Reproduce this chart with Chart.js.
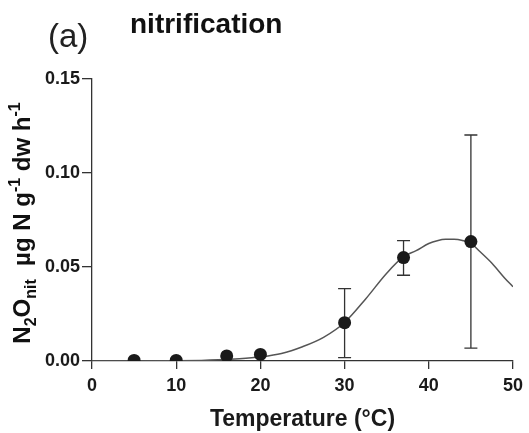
<!DOCTYPE html>
<html>
<head>
<script src="https://cdn.jsdelivr.net/npm/chart.js@4.4.1/dist/chart.umd.min.js"></script>
<style>
  body { margin: 0; background: #fff; }
  #chart { display: block; }
</style>
</head>
<body>
<canvas id="chart" width="529" height="433"></canvas>
<script>
// measured N2O from nitrification, mean and error range
var temps = [5, 10, 16, 20, 30, 37, 45];
var means = [0.0003, 0.0003, 0.0027, 0.0035, 0.0204, 0.055, 0.0635];
var errLow = [null, null, null, null, 0.0018, 0.0456, 0.0068];
var errHigh = [null, null, null, null, 0.0385, 0.064, 0.1202];

// fitted curve, read along its length
var fitT = [0, 5, 10, 13, 15, 17.5, 20, 22.5, 25, 27.5, 30, 32.5, 35, 37, 38.5, 40, 41, 42, 43, 44, 45, 46, 47.5, 49, 50];
var fitY = [0, 0, 0.0001, 0.0003, 0.0006, 0.0012, 0.0022, 0.004, 0.0076, 0.0126, 0.0205, 0.033, 0.0467, 0.0555, 0.0587, 0.0625, 0.0640, 0.0647, 0.0647, 0.0641, 0.0626, 0.0585, 0.052, 0.0442, 0.0395];

var xTicks = [0, 10, 20, 30, 40, 50];
var yTicks = [0, 0.05, 0.10, 0.15];

var ink = '#1a1a1a';
var axisCol = '#333';
var sans = '"Liberation Sans", Arial, sans-serif';

var errorBars = {
  id: 'errorBars',
  beforeDatasetsDraw: function (chart) {
    var ctx = chart.ctx, xs = chart.scales.x, ys = chart.scales.y;
    ctx.save();
    ctx.strokeStyle = '#333';
    ctx.lineWidth = 1.3;
    for (var i = 0; i < temps.length; i++) {
      if (errLow[i] == null) continue;
      var x = xs.getPixelForValue(temps[i]);
      var y1 = ys.getPixelForValue(errLow[i]);
      var y2 = ys.getPixelForValue(errHigh[i]);
      ctx.beginPath();
      ctx.moveTo(x, y1); ctx.lineTo(x, y2);
      ctx.moveTo(x - 6.5, y1); ctx.lineTo(x + 6.5, y1);
      ctx.moveTo(x - 6.5, y2); ctx.lineTo(x + 6.5, y2);
      ctx.stroke();
    }
    ctx.restore();
  }
};

// panel letter, heading and the rotated y title with sub/superscripts
var labels = {
  id: 'labels',
  afterDraw: function (chart) {
    var ctx = chart.ctx;
    ctx.save();
    ctx.fillStyle = '#222';
    ctx.textBaseline = 'alphabetic';
    ctx.font = '33px ' + sans;
    ctx.fillText('(a)', 48, 47);
    ctx.fillStyle = '#111';
    ctx.font = 'bold 28px ' + sans;
    ctx.fillText('nitrification', 130, 33);

    var parts = [
      ['N', 0], ['2', 1], ['O', 0], ['nit', 1], ['  \u00b5g N g', 0], ['-1', -1],
      [' dw h', 0], ['-1', -1]
    ];
    var big = 'bold 24px ' + sans;
    var small = 'bold 16px ' + sans;
    var total = 0;
    parts.forEach(function (p) {
      ctx.font = p[1] === 0 ? big : small;
      total += ctx.measureText(p[0]).width;
    });
    ctx.translate(30, 223);
    ctx.rotate(-Math.PI / 2);
    var x = -total / 2;
    parts.forEach(function (p) {
      ctx.font = p[1] === 0 ? big : small;
      var dy = p[1] === 1 ? 6 : (p[1] === -1 ? -10 : 0);
      ctx.fillText(p[0], x, dy);
      x += ctx.measureText(p[0]).width;
    });
    ctx.restore();
  }
};

new Chart(document.getElementById('chart'), {
  type: 'scatter',
  data: {
    datasets: [{
      type: 'scatter',
      data: temps.map(function (t, i) { return { x: t, y: means[i] }; }),
      pointRadius: 6.5,
      pointHoverRadius: 6.5,
      backgroundColor: ink,
      borderColor: ink,
      borderWidth: 0,
      order: 1
    }, {
      type: 'line',
      data: fitT.map(function (t, i) { return { x: t, y: fitY[i] }; }),
      borderColor: '#555',
      borderWidth: 1.5,
      pointRadius: 0,
      fill: false,
      cubicInterpolationMode: 'monotone',
      order: 2
    }]
  },
  options: {
    responsive: false,
    animation: false,
    layout: { padding: { top: 79, right: 14, left: 0, bottom: 0 } },
    plugins: { legend: { display: false }, tooltip: { enabled: false } },
    scales: {
      x: {
        type: 'linear',
        min: 0, max: 50,
        afterFit: function (s) { s.height = 72; },
        afterBuildTicks: function (s) { s.ticks = xTicks.map(function (v) { return { value: v }; }); },
        grid: { drawOnChartArea: false, drawTicks: true, tickLength: 8, color: axisCol, lineWidth: 1.3 },
        border: { display: true, color: axisCol, width: 1.3 },
        ticks: { color: ink, padding: 6, font: { family: sans, size: 18, weight: 'bold' } },
        title: {
          display: true, text: 'Temperature (\u00b0C)', color: ink, padding: { top: 0, bottom: 0 },
          font: { family: sans, size: 23, weight: 'bold' }
        }
      },
      y: {
        min: 0, max: 0.15,
        afterFit: function (s) { s.width = 92; },
        afterBuildTicks: function (s) { s.ticks = yTicks.map(function (v) { return { value: v }; }); },
        grid: { drawOnChartArea: false, drawTicks: true, tickLength: 10, color: axisCol, lineWidth: 1.3 },
        border: { display: true, color: axisCol, width: 1.3 },
        ticks: {
          color: ink, padding: 2,
          font: { family: sans, size: 18, weight: 'bold' },
          callback: function (v) { return v.toFixed(2); }
        }
      }
    }
  },
  plugins: [errorBars, labels]
});
</script>
</body>
</html>
